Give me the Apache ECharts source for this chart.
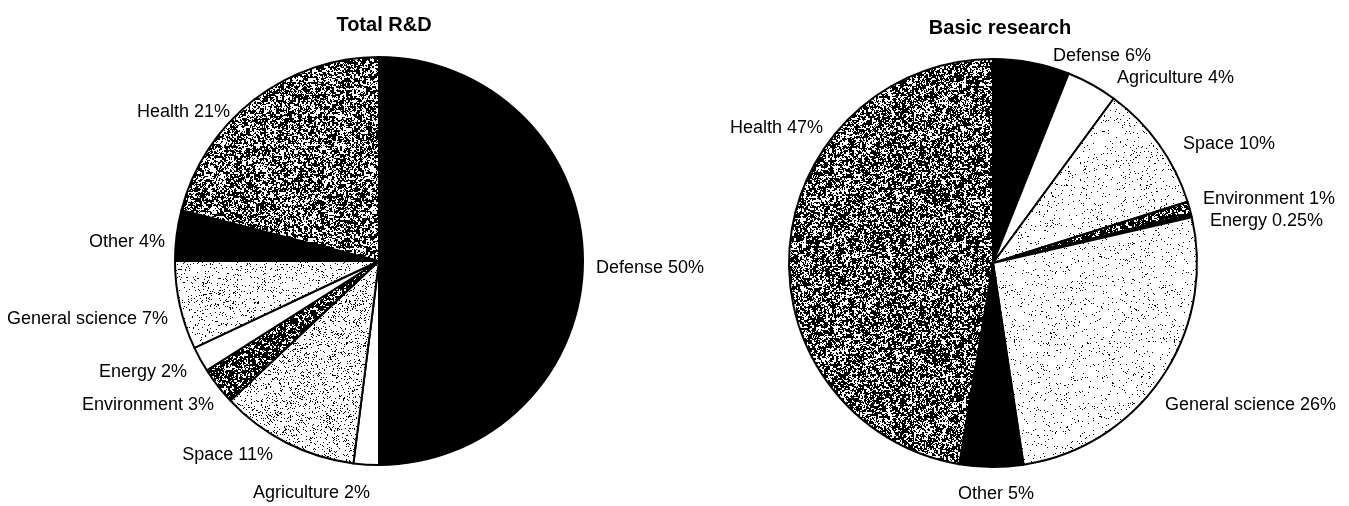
<!DOCTYPE html>
<html>
<head>
<meta charset="utf-8">
<script src="https://cdn.jsdelivr.net/npm/echarts@6/dist/echarts.min.js"></script>
<style>
  html, body { margin: 0; padding: 0; background: #fff; }
  #chart { width: 1349px; height: 506px; }
</style>
</head>
<body>
<div id="chart"></div>
<script>
// Federal R&D budget shares by function (percent)
const categories = ['Defense', 'Agriculture', 'Space', 'Environment', 'Energy', 'General science', 'Other', 'Health'];
const totalRD = [50, 2, 11, 3, 2, 7, 4, 21];
const basicResearch = [6, 4, 10, 1, 0.25, 26, 5, 47];
const chartTitles = ['Total R&D', 'Basic research'];

// Label anchor points for each pie: [x, y, align]
const totalLabelAnchors = [
  [596, 268, 'left'], [370, 493, 'right'], [273, 455, 'right'], [214, 405, 'right'],
  [187, 372, 'right'], [168, 319, 'right'], [165, 242, 'right'], [230, 112, 'right']
];
const basicLabelAnchors = [
  [1053, 56, 'left'], [1117, 78, 'left'], [1183, 144, 'left'], [1203, 199, 'left'],
  [1210, 221, 'left'], [1165, 405, 'left'], [996, 494, 'center'], [823, 128, 'right']
];

// Deterministic speckle texture used as a halftone fill
function hash(x, y, seed) {
  let h = Math.imul(x, 374761393) + Math.imul(y, 668265263) + Math.imul(seed, 1442695041);
  h = Math.imul(h ^ (h >>> 13), 1274126177);
  h = h ^ (h >>> 16);
  return (h >>> 0) / 4294967296;
}
function speckle(density, seed) {
  const size = 160;
  const c = document.createElement('canvas');
  c.width = size; c.height = size;
  const ctx = c.getContext('2d');
  const img = ctx.createImageData(size, size);
  for (let y = 0; y < size; y++) {
    for (let x = 0; x < size; x++) {
      // mix coarse and fine grain so the fill reads as a printed screen
      const coarse = hash(x >> 1, y >> 1, seed + 101);
      const fine = hash(x, y, seed);
      const v = (0.55 * coarse + 0.45 * fine) < 0.5 + (density - 0.5) * 0.75 ? 0 : 255;
      const i = (y * size + x) * 4;
      img.data[i] = img.data[i + 1] = img.data[i + 2] = v;
      img.data[i + 3] = 255;
    }
  }
  ctx.putImageData(img, 0, 0);
  return { image: c, repeat: 'repeat' };
}
function stipple(density, seed) {
  const size = 160;
  const c = document.createElement('canvas');
  c.width = size; c.height = size;
  const ctx = c.getContext('2d');
  const img = ctx.createImageData(size, size);
  for (let y = 0; y < size; y++) {
    for (let x = 0; x < size; x++) {
      const v = hash(x, y, seed) < density ? 0 : 255;
      const i = (y * size + x) * 4;
      img.data[i] = img.data[i + 1] = img.data[i + 2] = v;
      img.data[i + 3] = 255;
    }
  }
  ctx.putImageData(img, 0, 0);
  return { image: c, repeat: 'repeat' };
}

const fillsTotal = [
  '#000000', '#ffffff', stipple(0.13, 3), speckle(0.66, 7),
  '#ffffff', stipple(0.08, 11), '#000000', speckle(0.54, 17)
];
const fillsBasic = [
  '#000000', '#ffffff', stipple(0.045, 5), speckle(0.66, 9),
  '#000000', stipple(0.04, 13), '#000000', speckle(0.58, 19)
];

const labelFont = '"Liberation Sans", Arial, sans-serif';

function buildSeries(values, fills, anchors, center) {
  return {
    type: 'pie',
    center: center,
    radius: 204,
    startAngle: 90,
    clockwise: true,
    avoidLabelOverlap: false,
    animation: false,
    silent: true,
    data: categories.map((name, i) => ({
      name: name,
      value: values[i],
      itemStyle: { color: fills[i] }
    })),
    itemStyle: { borderColor: '#000', borderWidth: 2 },
    label: {
      show: true,
      position: 'outside',
      formatter: p => p.name + ' ' + p.value + '%',
      fontFamily: labelFont,
      fontSize: 18,
      color: '#000'
    },
    labelLine: { show: false },
    labelLayout: function (params) {
      const a = anchors[params.dataIndex];
      return { x: a[0], y: a[1], align: a[2], verticalAlign: 'middle' };
    }
  };
}

const chart = echarts.init(document.getElementById('chart'), null, { renderer: 'canvas' });
chart.setOption({
  backgroundColor: '#fff',
  title: [
    { text: chartTitles[0], left: 379, top: 10, textAlign: 'center',
      textStyle: { fontFamily: labelFont, fontWeight: 'bold', fontSize: 20, color: '#000' } },
    { text: chartTitles[1], left: 995, top: 13, textAlign: 'center',
      textStyle: { fontFamily: labelFont, fontWeight: 'bold', fontSize: 20, color: '#000' } }
  ],
  series: [
    buildSeries(totalRD, fillsTotal, totalLabelAnchors, [379, 261]),
    buildSeries(basicResearch, fillsBasic, basicLabelAnchors, [993, 263])
  ]
});
</script>
</body>
</html>
